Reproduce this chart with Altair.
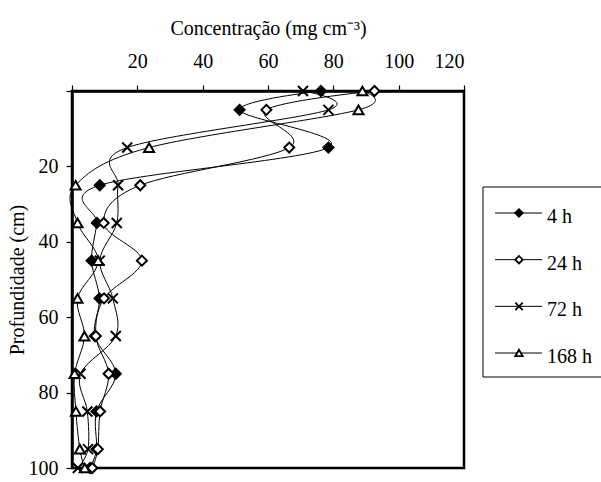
import altair as alt
import pandas as pd

# ---- data ----
depths = [0, 5, 15, 25, 35, 45, 55, 65, 75, 85, 95, 100]
conc_4h = [76.2, 51.3, 78.5, 8.5, 7.6, 6.0, 8.4, 7.0, 13.4, 7.5, 7.5, 5.5]
conc_24h = [92.6, 59.5, 66.5, 20.9, 9.7, 21.4, 9.8, 7.3, 11.2, 8.6, 7.9, 6.2]
conc_72h = [70.7, 78.5, 16.9, 14.1, 13.7, 8.5, 12.5, 13.4, 2.6, 4.7, 4.9, 1.8]
conc_168h = [88.9, 87.7, 23.6, 1.1, 1.7, 8.0, 1.7, 3.8, 0.8, 1.2, 2.4, 3.9]
series = ["4 h", "24 h", "72 h", "168 h"]
x_ticks = [0, 20, 40, 60, 80, 100, 120]
y_ticks = [0, 20, 40, 60, 80, 100]

values = {"4 h": conc_4h, "24 h": conc_24h, "72 h": conc_72h, "168 h": conc_168h}
rows = []
for s in series:
    for d, v in zip(depths, values[s]):
        rows.append({"serie": s, "prof": d, "conc": v})
df = pd.DataFrame(rows)
leg = pd.DataFrame({"serie": series})

FONT = "Liberation Serif"
shape_scale = alt.Scale(domain=series,
                        range=["diamond", "diamond", "M-1,-1L1,1M1,-1L-1,1", "triangle-up"])
fill_scale = alt.Scale(domain=series, range=["black", "white", "white", "white"])

x_enc = alt.X("conc:Q",
              scale=alt.Scale(domain=[0, 120], nice=False, zero=True),
              axis=alt.Axis(orient="top", values=x_ticks,
                            labelExpr="datum.value == 0 ? '' : datum.label",
                            title="Concentração (mg cm⁻³)",
                            titleY=-57, titleBaseline="alphabetic",
                            tickSize=6, labelPadding=14))
y_enc = alt.Y("prof:Q",
              scale=alt.Scale(domain=[0, 100], nice=False, reverse=True),
              axis=alt.Axis(values=y_ticks,
                            labelExpr="datum.value == 0 ? '' : datum.label",
                            title="Profundidade (cm)",
                            titleX=-55, titleBaseline="middle",
                            tickSize=6, labelPadding=8))

lines = alt.Chart(df).mark_line(interpolate="cardinal", color="black", strokeWidth=1).encode(
    x=x_enc, y=y_enc, detail="serie:N", order="prof:Q")
points = alt.Chart(df).mark_point(filled=True, stroke="black", strokeWidth=2, opacity=1, size=100).encode(
    x="conc:Q", y="prof:Q",
    shape=alt.Shape("serie:N", scale=shape_scale, legend=None),
    fill=alt.Fill("serie:N", scale=fill_scale, legend=None))
main = alt.layer(lines, points)

leg_y = alt.Y("serie:N", scale=alt.Scale(type="point", domain=series, range=[122, 262], padding=0), axis=None)
box = alt.Chart(pd.DataFrame({"a": [0]})).mark_rect(fill="white", stroke="black", strokeWidth=1).encode(
    x=alt.value(411), x2=alt.value(620), y=alt.value(96), y2=alt.value(286))
leg_rules = alt.Chart(leg).mark_rule(color="black", strokeWidth=1).encode(
    x=alt.value(423), x2=alt.value(470), y=leg_y)
leg_points = alt.Chart(leg).mark_point(filled=True, stroke="black", strokeWidth=1.8, opacity=1, size=55).encode(
    x=alt.value(447), y=leg_y,
    shape=alt.Shape("serie:N", scale=shape_scale, legend=None),
    fill=alt.Fill("serie:N", scale=fill_scale, legend=None))
leg_text = alt.Chart(leg).mark_text(align="left", baseline="middle", dy=4, font=FONT, fontSize=20, color="black").encode(
    x=alt.value(475), y=leg_y, text="serie:N")
legend = alt.layer(leg_rules, leg_points, leg_text)

chart = alt.layer(box, main, legend).resolve_scale(y="independent").properties(
    width=392, height=377,
    background="white",
    autosize=alt.AutoSizeParams(type="none"),
    padding={"left": 72, "top": 91, "right": 137, "bottom": 14},
).configure_view(stroke="black", strokeWidth=2.5).configure_axis(
    grid=False, domainColor="black", domainWidth=2.5, tickColor="black", tickWidth=1.2,
    labelFont=FONT, titleFont=FONT, labelFontSize=20, titleFontSize=20,
    labelColor="black", titleColor="black", titleFontWeight="normal",
).configure_text(font=FONT, fontSize=20).configure_mark(font=FONT)

chart.save("out.html", embed_options={"renderer": "svg", "actions": False})
